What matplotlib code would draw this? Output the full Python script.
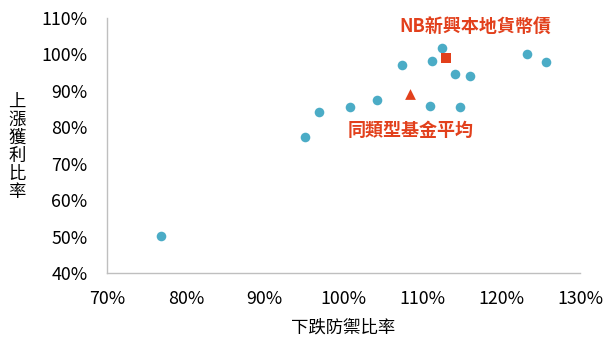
import matplotlib
matplotlib.use('Agg')
import matplotlib.pyplot as plt
from matplotlib.ticker import FuncFormatter

plt.rcParams['font.family'] = ['Noto Sans CJK TC', 'DejaVu Sans']

# 下跌防禦比率 (x) / 上漲獲利比率 (y), 單位 %
peer_x = [76.8, 95.1, 96.9, 100.8, 104.3, 107.4, 111.0, 111.2, 112.5, 114.2, 114.8, 116.1, 123.3, 125.7]
peer_y = [50.2, 77.4, 84.2, 85.5, 87.4, 97.2, 85.8, 98.2, 101.7, 94.6, 85.5, 94.0, 100.0, 97.9]

nb_x = [113.0]
nb_y = [99.0]
avg_x = [108.4]
avg_y = [89.1]

xticks = [70, 80, 90, 100, 110, 120, 130]
yticks = [40, 50, 60, 70, 80, 90, 100, 110]

teal = '#4BACC6'
red = '#E2401C'

fig = plt.figure(figsize=(6.1, 3.44), dpi=100)
ax = fig.add_axes([0.1754, 0.2064, 0.7754, 0.7413])

ax.scatter(peer_x, peer_y, s=48, color=teal, zorder=3, linewidths=0)
ax.scatter(nb_x, nb_y, s=60, marker='s', color=red, zorder=4, linewidths=0)
ax.scatter(avg_x, avg_y, s=60, marker='^', color=red, zorder=4, linewidths=0)

fig.text(475 / 610, 1 - 26 / 344, 'NB新興本地貨幣債', ha='center', va='center',
         fontsize=13, fontweight='bold', color=red)
fig.text(411 / 610, 1 - 130 / 344, '同類型基金平均', ha='center', va='center',
         fontsize=13, fontweight='bold', color=red)

ax.set_xlim(70, 130)
ax.set_ylim(40, 110)
ax.set_xticks(xticks)
ax.set_yticks(yticks)
pct = FuncFormatter(lambda v, p: f'{v:.0f}%')
ax.xaxis.set_major_formatter(pct)
ax.yaxis.set_major_formatter(pct)
ax.tick_params(length=0, labelsize=12.8, colors='black')
ax.tick_params(axis='x', pad=12.5)
ax.tick_params(axis='y', pad=14)

for s in ['top', 'right']:
    ax.spines[s].set_visible(False)
for s in ['left', 'bottom']:
    ax.spines[s].set_color('#BFBFBF')
    ax.spines[s].set_linewidth(1)

fig.text(343 / 610, 1 - 328 / 344, '下跌防禦比率', ha='center', va='center', fontsize=12.5)
fig.text(17 / 610, 1 - 147 / 344, '上\n漲\n獲\n利\n比\n率', ha='center', va='center',
         fontsize=12.5, linespacing=1.0)

fig.savefig('out.png', dpi=100)
